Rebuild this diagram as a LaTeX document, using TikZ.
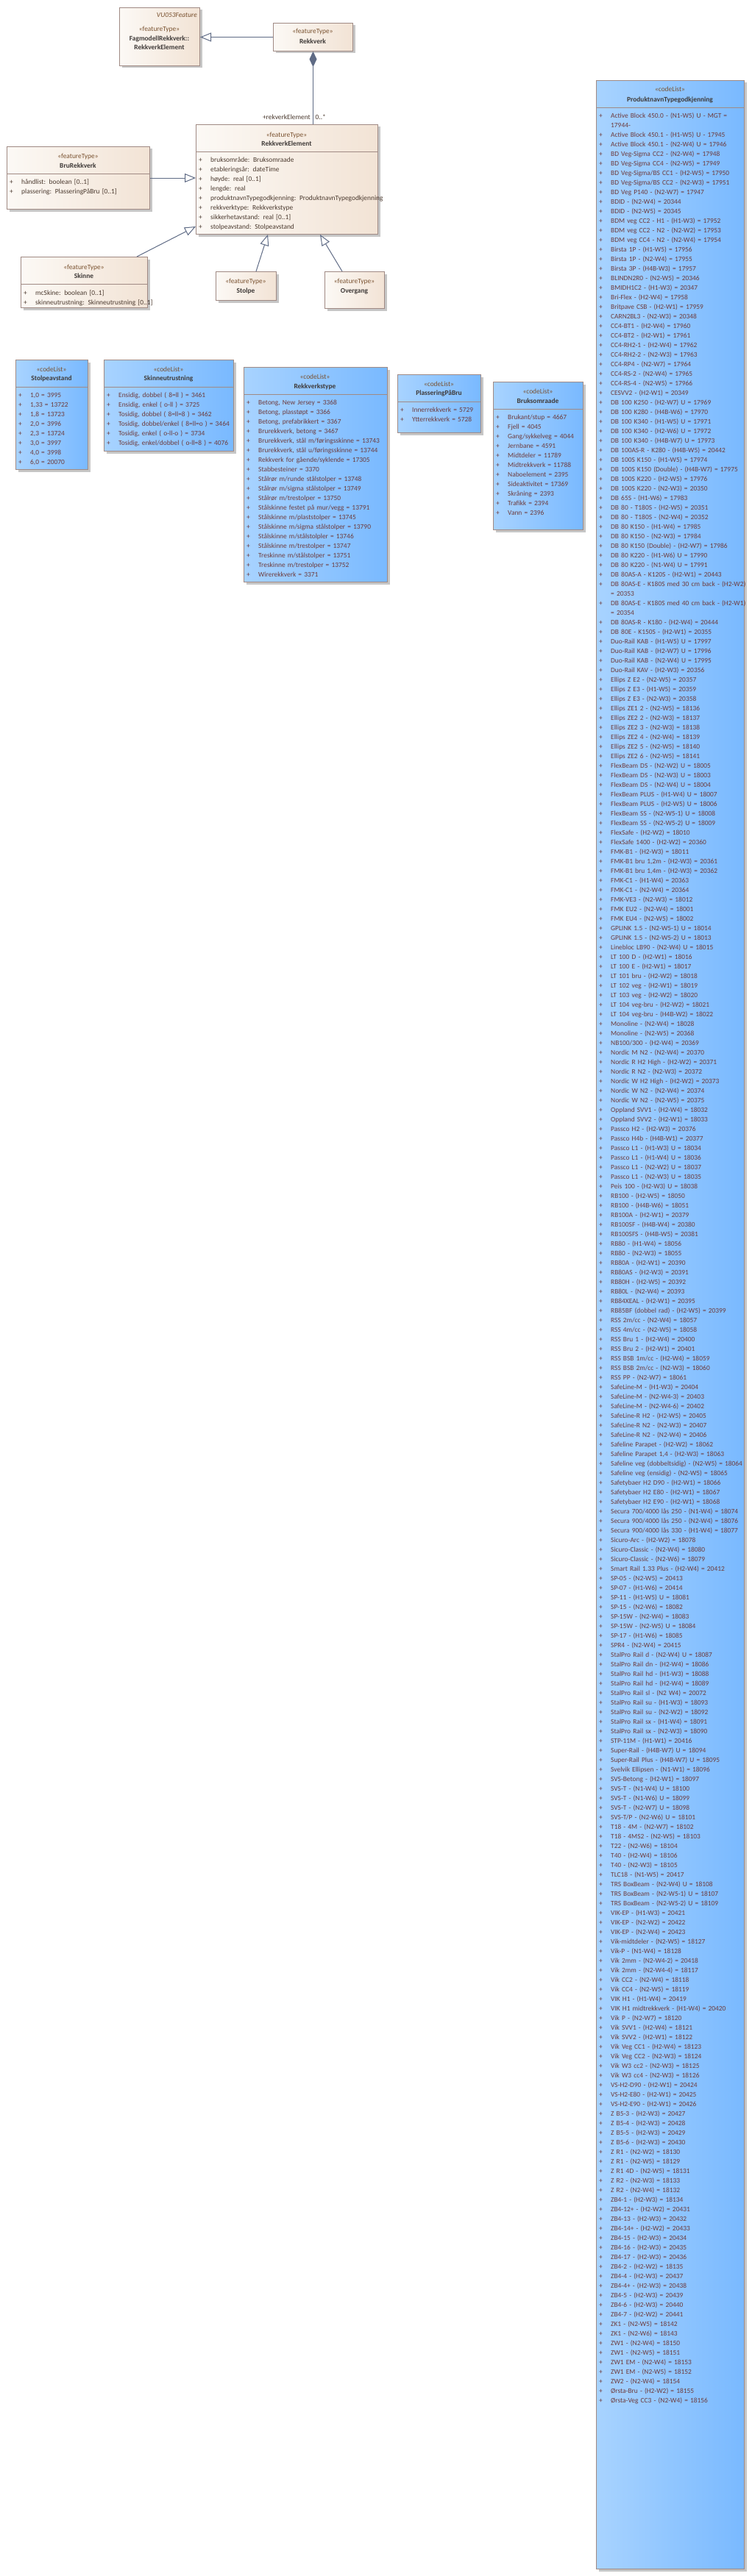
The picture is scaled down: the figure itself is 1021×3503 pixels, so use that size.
\documentclass[tikz,border=0pt]{standalone}
\usepackage{fontspec}
\setmainfont{Carlito}
\usetikzlibrary{arrows.meta,calc,positioning,shadows}
\definecolor{featleft}{HTML}{FCF9F5}
\definecolor{featright}{HTML}{F2E3D5}
\definecolor{codeleft}{HTML}{A8D3FF}
\definecolor{coderight}{HTML}{79B9FF}
\definecolor{boxedge}{HTML}{A08A84}
\definecolor{shadowgrey}{HTML}{C6C6C6}
\definecolor{linegrey}{HTML}{5F6B85}
\definecolor{stereobrown}{HTML}{7A5230}
\definecolor{namegrey}{HTML}{3F3A38}
\definecolor{attrbrown}{HTML}{4B3A2F}
\definecolor{codetxt}{HTML}{6E3B3B}
\newcommand{\fs}{\fontsize{9.4}{13}\selectfont}
\newcommand{\pl}{\makebox[16pt][l]{+}}
\newcommand{\cont}{\hspace*{16pt}}
\newcommand{\fstrut}{\rule{0pt}{10pt}}

\tikzset{
  umlbox/.style={draw=boxedge, line width=1pt, inner sep=0pt, anchor=north west,
    drop shadow={shadow xshift=3pt, shadow yshift=-3pt, fill=shadowgrey, opacity=1}},
  featbox/.style={umlbox, left color=featleft, right color=featright},
  codebox/.style={umlbox, left color=codeleft, right color=coderight},
  divider/.style={draw=boxedge, line width=1pt},
  stereo/.style={font=\fs, text=stereobrown, inner sep=0pt, anchor=base},
  cname/.style={font=\fs\bfseries, text=namegrey, inner sep=0pt, anchor=base},
  attrs/.style={font=\fs, text=attrbrown, text width=320pt, align=left, inner sep=0pt, anchor=north west},
  codes/.style={attrs, text=codetxt},
  gen/.style={draw=linegrey, line width=1pt, -{Triangle[open, length=15pt, width=12pt]}},
  comp/.style={draw=linegrey, line width=1pt, {Diamond[length=21pt, width=10pt, fill=linegrey]}-},
  rolelabel/.style={font=\fs, text=attrbrown, inner sep=0pt},
}

\begin{document}
\begin{tikzpicture}[x=1pt, y=-1pt]
  \useasboundingbox (0,0) rectangle (1021,3503);
  \fill[white] (0,0) rectangle (1021,3503);

  % featureType boxes
  \node[featbox, minimum width=109pt, minimum height=79pt] (fagmodell) at (162,10) {};
  \node[featbox, minimum width=108pt, minimum height=38pt] (rekkverk) at (371,31) {};
  \node[featbox, minimum width=247pt, minimum height=149pt] (relem) at (266,169) {};
  \node[featbox, minimum width=194pt, minimum height=85pt] (brurekk) at (9,199) {};
  \node[featbox, minimum width=172pt, minimum height=69pt] (skinne) at (28,349) {};
  \node[featbox, minimum width=82pt, minimum height=39pt] (stolpe) at (293,369) {};
  \node[featbox, minimum width=81pt, minimum height=50pt] (overgang) at (441,369) {};

  % codeList boxes
  \node[codebox, minimum width=98pt, minimum height=149pt] (stolpeavst) at (21,489) {};
  \node[codebox, minimum width=176pt, minimum height=124pt] (skinneutr) at (141,489) {};
  \node[codebox, minimum width=195pt, minimum height=292pt] (rekkvtype) at (331,499) {};
  \node[codebox, minimum width=113pt, minimum height=79pt] (plassering) at (540,509) {};
  \node[codebox, minimum width=122pt, minimum height=201pt] (bruksomr) at (670,519) {};
  \node[codebox, minimum width=201pt, minimum height=3384pt] (produkt) at (810,109) {};

  % compartments
  \foreach \cls/\yy in {relem/207, brurekk/236, skinne/386, stolpeavst/526, skinneutr/526,
      rekkvtype/536, plassering/546, bruksomr/556, produkt/147}
    \draw[divider] (\cls.west |- 0,\yy) -- (\cls.east |- 0,\yy);

  % headers
  \node[font=\fs\itshape, text=stereobrown, inner sep=0pt, anchor=base east] (vufeat) at (268,23.3) {VU053Feature};
  \node[stereo] (fagst) at (216.5,42.3) {«featureType»};
  \node[cname] (fagnm) at (216.5,56) {FagmodellRekkverk::};
  \node[cname] (fagnm2) at (216.5,67.6) {RekkverkElement};
  \node[stereo] (rkst) at (425,46) {«featureType»};
  \node[cname] (rknm) at (425,59.3) {Rekkverk};
  \node[stereo] (rest) at (389.5,186.6) {«featureType»};
  \node[cname] (renm) at (389.5,198.3) {RekkverkElement};
  \node[stereo] (brst) at (106,215.6) {«featureType»};
  \node[cname] (brnm) at (106,228.3) {BruRekkverk};
  \node[stereo] (skst) at (114,366) {«featureType»};
  \node[cname] (sknm) at (114,378.3) {Skinne};
  \node[stereo] (stst) at (334,385) {«featureType»};
  \node[cname] (stnm) at (334,398.3) {Stolpe};
  \node[stereo] (ovst) at (481.5,385) {«featureType»};
  \node[cname] (ovnm) at (481.5,398.3) {Overgang};
  \node[stereo] (sast) at (70,505) {«codeList»};
  \node[cname] (sanm) at (70,517.6) {Stolpeavstand};
  \node[stereo] (sust) at (229,505) {«codeList»};
  \node[cname] (sunm) at (229,517.6) {Skinneutrustning};
  \node[stereo] (rtst) at (428,515) {«codeList»};
  \node[cname] (rtnm) at (428,528) {Rekkverkstype};
  \node[stereo] (plst) at (596.5,525) {«codeList»};
  \node[cname] (plnm) at (596.5,537.6) {PlasseringPåBru};
  \node[stereo] (bost) at (731,535) {«codeList»};
  \node[cname] (bonm) at (731,548.3) {Bruksomraade};
  \node[stereo] (prst) at (910.5,125) {«codeList»};
  \node[cname] (prnm) at (910.5,138.3) {ProduktnavnTypegodkjenning};

  % attributes
  \node[attrs] (reattr) at (270,210) {\fstrut\pl bruksområde: Bruksomraade\\
    \pl etableringsår: dateTime\\ \pl høyde: real [0..1]\\ \pl lengde: real\\
    \pl produktnavnTypegodkjenning: ProduktnavnTypegodkjenning\\
    \pl rekkverktype: Rekkverkstype\\ \pl sikkerhetavstand: real [0..1]\\
    \pl stolpeavstand: Stolpeavstand};
  \node[attrs] (brattr) at (13,240.6) {\fstrut\pl håndlist: boolean [0..1]\\
    \pl plassering: PlasseringPåBru [0..1]};
  \node[attrs] (skattr) at (32,391) {\fstrut\pl mcSkine: boolean [0..1]\\
    \pl skinneutrustning: Skinneutrustning [0..1]};

  % code values
  \node[codes] (saval) at (25,530) {\fstrut\pl 1,0 = 3995\\ \pl 1,33 = 13722\\
    \pl 1,8 = 13723\\ \pl 2,0 = 3996\\ \pl 2,3 = 13724\\ \pl 3,0 = 3997\\
    \pl 4,0 = 3998\\ \pl 6,0 = 20070};
  \node[codes] (suval) at (145,530) {\fstrut\pl Ensidig, dobbel ( 8=ll ) = 3461\\
    \pl Ensidig, enkel ( o-ll ) = 3725\\ \pl Tosidig, dobbel ( 8=ll=8 ) = 3462\\
    \pl Tosidig, dobbel/enkel ( 8=ll=o ) = 3464\\ \pl Tosidig, enkel ( o-ll-o ) = 3734\\
    \pl Tosidig, enkel/dobbel ( o-ll=8 ) = 4076};
  \node[codes] (rtval) at (335,540) {\fstrut\pl Betong, New Jersey = 3368\\
    \pl Betong, plasstøpt = 3366\\ \pl Betong, prefabrikkert = 3367\\
    \pl Brurekkverk, betong = 3467\\ \pl Brurekkverk, stål m/føringsskinne = 13743\\
    \pl Brurekkverk, stål u/føringsskinne = 13744\\ \pl Rekkverk for gående/syklende = 17305\\
    \pl Stabbesteiner = 3370\\ \pl Stålrør m/runde stålstolper = 13748\\
    \pl Stålrør m/sigma stålstolper = 13749\\ \pl Stålrør m/trestolper = 13750\\
    \pl Stålskinne festet på mur/vegg = 13791\\ \pl Stålskinne m/plaststolper = 13745\\
    \pl Stålskinne m/sigma stålstolper = 13790\\ \pl Stålskinne m/stålstolpler = 13746\\
    \pl Stålskinne m/trestolper = 13747\\ \pl Treskinne m/stålstolper = 13751\\
    \pl Treskinne m/trestolper = 13752\\ \pl Wirerekkverk = 3371};
  \node[codes] (plval) at (544,550.3) {\fstrut\pl Innerrekkverk = 5729\\
    \pl Ytterrekkverk = 5728};
  \node[codes] (boval) at (674,560) {\fstrut\pl Brukant/stup = 4667\\ \pl Fjell = 4045\\
    \pl Gang/sykkelveg = 4044\\ \pl Jernbane = 4591\\ \pl Midtdeler = 11789\\
    \pl Midtrekkverk = 11788\\ \pl Naboelement = 2395\\ \pl Sideaktivitet = 17369\\
    \pl Skråning = 2393\\ \pl Trafikk = 2394\\ \pl Vann = 2396};

  \begin{scope}
    \clip (produkt.north west) rectangle (produkt.south east);
    \node[codes] (prval) at (814,150.6) {\fstrut\pl Active Block 450.0 - (N1-W5) U - MGT =\\
      \cont 17944-\\
      \pl Active Block 450.1 - (H1-W5) U - 17945\\
      \pl Active Block 450.1 - (N2-W4) U = 17946\\
      \pl BD Veg-Sigma CC2 - (N2-W4) = 17948\\
      \pl BD Veg-Sigma CC4 - (N2-W5) = 17949\\
      \pl BD Veg-Sigma/BS CC1 - (H2-W5) = 17950\\
      \pl BD Veg-Sigma/BS CC2 - (N2-W3) = 17951\\
      \pl BD Veg P140 - (N2-W7) = 17947\\
      \pl BDID - (N2-W4) = 20344\\
      \pl BDID - (N2-W5) = 20345\\
      \pl BDM veg CC2 - H1 - (H1-W3) = 17952\\
      \pl BDM veg CC2 - N2 - (N2-W2) = 17953\\
      \pl BDM veg CC4 - N2 - (N2-W4) = 17954\\
      \pl Birsta 1P - (H1-W5) = 17956\\
      \pl Birsta 1P - (N2-W4) = 17955\\
      \pl Birsta 3P - (H4B-W3) = 17957\\
      \pl BLINDN2R0 - (N2-W5) = 20346\\
      \pl BMIDH1C2 - (H1-W3) = 20347\\
      \pl Bri-Flex - (H2-W4) = 17958\\
      \pl Britpave CSB - (H2-W1) = 17959\\
      \pl CARN2BL3 - (N2-W3) = 20348\\
      \pl CC4-BT1 - (H2-W4) = 17960\\
      \pl CC4-BT2 - (H2-W1) = 17961\\
      \pl CC4-RH2-1 - (H2-W4) = 17962\\
      \pl CC4-RH2-2 - (N2-W3) = 17963\\
      \pl CC4-RP4 - (N2-W7) = 17964\\
      \pl CC4-RS-2 - (N2-W4) = 17965\\
      \pl CC4-RS-4 - (N2-W5) = 17966\\
      \pl CESVV2 - (H2-W1) = 20349\\
      \pl DB 100 K250 - (H2-W7) U = 17969\\
      \pl DB 100 K280 - (H4B-W6) = 17970\\
      \pl DB 100 K340 - (H1-W5) U = 17971\\
      \pl DB 100 K340 - (H2-W6) U = 17972\\
      \pl DB 100 K340 - (H4B-W7) U = 17973\\
      \pl DB 100AS-R - K280 - (H4B-W5) = 20442\\
      \pl DB 100S K150 - (H1-W5) = 17974\\
      \pl DB 100S K150 (Double) - (H4B-W7) = 17975\\
      \pl DB 100S K220 - (H2-W5) = 17976\\
      \pl DB 100S K220 - (N2-W3) = 20350\\
      \pl DB 65S - (H1-W6) = 17983\\
      \pl DB 80 - T180S - (H2-W5) = 20351\\
      \pl DB 80 - T180S - (N2-W4) = 20352\\
      \pl DB 80 K150 - (H1-W4) = 17985\\
      \pl DB 80 K150 - (N2-W3) = 17984\\
      \pl DB 80 K150 (Double) - (H2-W7) = 17986\\
      \pl DB 80 K220 - (H1-W6) U = 17990\\
      \pl DB 80 K220 - (N1-W4) U = 17991\\
      \pl DB 80AS-A - K120S - (H2-W1) = 20443\\
      \pl DB 80AS-E - K180S med 30 cm back - (H2-W2)\\
      \cont = 20353\\
      \pl DB 80AS-E - K180S med 40 cm back - (H2-W1)\\
      \cont = 20354\\
      \pl DB 80AS-R - K180 - (H2-W4) = 20444\\
      \pl DB 80E - K150S - (H2-W1) = 20355\\
      \pl Duo-Rail KAB - (H1-W5) U = 17997\\
      \pl Duo-Rail KAB - (H2-W7) U = 17996\\
      \pl Duo-Rail KAB - (N2-W4) U = 17995\\
      \pl Duo-Rail KAV - (H2-W3) = 20356\\
      \pl Ellips Z E2 - (N2-W5) = 20357\\
      \pl Ellips Z E3 - (H1-W5) = 20359\\
      \pl Ellips Z E3 - (N2-W3) = 20358\\
      \pl Ellips ZE1 2 - (N2-W5) = 18136\\
      \pl Ellips ZE2 2 - (N2-W3) = 18137\\
      \pl Ellips ZE2 3 - (N2-W3) = 18138\\
      \pl Ellips ZE2 4 - (N2-W4) = 18139\\
      \pl Ellips ZE2 5 - (N2-W5) = 18140\\
      \pl Ellips ZE2 6 - (N2-W5) = 18141\\
      \pl FlexBeam DS - (N2-W2) U = 18005\\
      \pl FlexBeam DS - (N2-W3) U = 18003\\
      \pl FlexBeam DS - (N2-W4) U = 18004\\
      \pl FlexBeam PLUS - (H1-W4) U = 18007\\
      \pl FlexBeam PLUS - (H2-W5) U = 18006\\
      \pl FlexBeam SS - (N2-W5-1) U = 18008\\
      \pl FlexBeam SS - (N2-W5-2) U = 18009\\
      \pl FlexSafe - (H2-W2) = 18010\\
      \pl FlexSafe 1400 - (H2-W2) = 20360\\
      \pl FMK-B1 - (H2-W3) = 18011\\
      \pl FMK-B1 bru 1,2m - (H2-W3) = 20361\\
      \pl FMK-B1 bru 1,4m - (H2-W3) = 20362\\
      \pl FMK-C1 - (H1-W4) = 20363\\
      \pl FMK-C1 - (N2-W4) = 20364\\
      \pl FMK-VE3 - (N2-W3) = 18012\\
      \pl FMK EU2 - (N2-W4) = 18001\\
      \pl FMK EU4 - (N2-W5) = 18002\\
      \pl GPLINK 1.5 - (N2-W5-1) U = 18014\\
      \pl GPLINK 1.5 - (N2-W5-2) U = 18013\\
      \pl Linebloc LB90 - (N2-W4) U = 18015\\
      \pl LT 100 D - (H2-W1) = 18016\\
      \pl LT 100 E - (H2-W1) = 18017\\
      \pl LT 101 bru - (H2-W2) = 18018\\
      \pl LT 102 veg - (H2-W1) = 18019\\
      \pl LT 103 veg - (H2-W2) = 18020\\
      \pl LT 104 veg-bru - (H2-W2) = 18021\\
      \pl LT 104 veg-bru - (H4B-W2) = 18022\\
      \pl Monoline - (N2-W4) = 18028\\
      \pl Monoline - (N2-W5) = 20368\\
      \pl NB100/300 - (H2-W4) = 20369\\
      \pl Nordic M N2 - (N2-W4) = 20370\\
      \pl Nordic R H2 High - (H2-W2) = 20371\\
      \pl Nordic R N2 - (N2-W3) = 20372\\
      \pl Nordic W H2 High - (H2-W2) = 20373\\
      \pl Nordic W N2 - (N2-W4) = 20374\\
      \pl Nordic W N2 - (N2-W5) = 20375\\
      \pl Oppland SVV1 - (H2-W4) = 18032\\
      \pl Oppland SVV2 - (H2-W1) = 18033\\
      \pl Passco H2 - (H2-W3) = 20376\\
      \pl Passco H4b - (H4B-W1) = 20377\\
      \pl Passco L1 - (H1-W3) U = 18034\\
      \pl Passco L1 - (H1-W4) U = 18036\\
      \pl Passco L1 - (N2-W2) U = 18037\\
      \pl Passco L1 - (N2-W3) U = 18035\\
      \pl Peis 100 - (H2-W3) U = 18038\\
      \pl RB100 - (H2-W5) = 18050\\
      \pl RB100 - (H4B-W6) = 18051\\
      \pl RB100A - (H2-W1) = 20379\\
      \pl RB100SF - (H4B-W4) = 20380\\
      \pl RB100SFS - (H4B-W5) = 20381\\
      \pl RB80 - (H1-W4) = 18056\\
      \pl RB80 - (N2-W3) = 18055\\
      \pl RB80A - (H2-W1) = 20390\\
      \pl RB80AS - (H2-W3) = 20391\\
      \pl RB80H - (H2-W5) = 20392\\
      \pl RB80L - (N2-W4) = 20393\\
      \pl RB84XEAL - (H2-W1) = 20395\\
      \pl RB85BF (dobbel rad) - (H2-W5) = 20399\\
      \pl RSS 2m/cc - (N2-W4) = 18057\\
      \pl RSS 4m/cc - (N2-W5) = 18058\\
      \pl RSS Bru 1 - (H2-W4) = 20400\\
      \pl RSS Bru 2 - (H2-W1) = 20401\\
      \pl RSS BSB 1m/cc - (H2-W4) = 18059\\
      \pl RSS BSB 2m/cc - (N2-W3) = 18060\\
      \pl RSS PP - (N2-W7) = 18061\\
      \pl SafeLine-M - (H1-W3) = 20404\\
      \pl SafeLine-M - (N2-W4-3) = 20403\\
      \pl SafeLine-M - (N2-W4-6) = 20402\\
      \pl SafeLine-R H2 - (H2-W5) = 20405\\
      \pl SafeLine-R N2 - (N2-W3) = 20407\\
      \pl SafeLine-R N2 - (N2-W4) = 20406\\
      \pl Safeline Parapet - (H2-W2) = 18062\\
      \pl Safeline Parapet 1,4 - (H2-W3) = 18063\\
      \pl Safeline veg (dobbeltsidig) - (N2-W5) = 18064\\
      \pl Safeline veg (ensidig) - (N2-W5) = 18065\\
      \pl Safetybaer H2 D90 - (H2-W1) = 18066\\
      \pl Safetybaer H2 E80 - (H2-W1) = 18067\\
      \pl Safetybaer H2 E90 - (H2-W1) = 18068\\
      \pl Secura 700/4000 lås 250 - (N1-W4) = 18074\\
      \pl Secura 900/4000 lås 250 - (N2-W4) = 18076\\
      \pl Secura 900/4000 lås 330 - (H1-W4) = 18077\\
      \pl Sicuro-Arc - (H2-W2) = 18078\\
      \pl Sicuro-Classic - (N2-W4) = 18080\\
      \pl Sicuro-Classic - (N2-W6) = 18079\\
      \pl Smart Rail 1.33 Plus - (H2-W4) = 20412\\
      \pl SP-05 - (N2-W5) = 20413\\
      \pl SP-07 - (H1-W6) = 20414\\
      \pl SP-11 - (H1-W5) U = 18081\\
      \pl SP-15 - (N2-W6) = 18082\\
      \pl SP-15W - (N2-W4) = 18083\\
      \pl SP-15W - (N2-W5) U = 18084\\
      \pl SP-17 - (H1-W6) = 18085\\
      \pl SPR4 - (N2-W4) = 20415\\
      \pl StalPro Rail d - (N2-W4) U = 18087\\
      \pl StalPro Rail dn - (H2-W4) = 18086\\
      \pl StalPro Rail hd - (H1-W3) = 18088\\
      \pl StalPro Rail hd - (H2-W4) = 18089\\
      \pl StalPro Rail sl - (N2 W4) = 20072\\
      \pl StalPro Rail su - (H1-W3) = 18093\\
      \pl StalPro Rail su - (N2-W2) = 18092\\
      \pl StalPro Rail sx - (H1-W4) = 18091\\
      \pl StalPro Rail sx - (N2-W3) = 18090\\
      \pl STP-11M - (H1-W1) = 20416\\
      \pl Super-Rail - (H4B-W7) U = 18094\\
      \pl Super-Rail Plus - (H4B-W7) U = 18095\\
      \pl Svelvik Ellipsen - (N1-W1) = 18096\\
      \pl SVS-Betong - (H2-W1) = 18097\\
      \pl SVS-T - (N1-W4) U = 18100\\
      \pl SVS-T - (N1-W6) U = 18099\\
      \pl SVS-T - (N2-W7) U = 18098\\
      \pl SVS-T/P - (N2-W6) U = 18101\\
      \pl T18 - 4M - (N2-W7) = 18102\\
      \pl T18 - 4MS2 - (N2-W5) = 18103\\
      \pl T22 - (N2-W6) = 18104\\
      \pl T40 - (H2-W4) = 18106\\
      \pl T40 - (N2-W3) = 18105\\
      \pl TLC18 - (N1-W5) = 20417\\
      \pl TRS BoxBeam - (N2-W4) U = 18108\\
      \pl TRS BoxBeam - (N2-W5-1) U = 18107\\
      \pl TRS BoxBeam - (N2-W5-2) U = 18109\\
      \pl VIK-EP - (H1-W3) = 20421\\
      \pl VIK-EP - (N2-W2) = 20422\\
      \pl VIK-EP - (N2-W4) = 20423\\
      \pl Vik-midtdeler - (N2-W5) = 18127\\
      \pl Vik-P - (N1-W4) = 18128\\
      \pl Vik 2mm - (N2-W4-2) = 20418\\
      \pl Vik 2mm - (N2-W4-4) = 18117\\
      \pl Vik CC2 - (N2-W4) = 18118\\
      \pl Vik CC4 - (N2-W5) = 18119\\
      \pl VIK H1 - (H1-W4) = 20419\\
      \pl VIK H1 midtrekkverk - (H1-W4) = 20420\\
      \pl Vik P - (N2-W7) = 18120\\
      \pl Vik SVV1 - (H2-W4) = 18121\\
      \pl Vik SVV2 - (H2-W1) = 18122\\
      \pl Vik Veg CC1 - (H2-W4) = 18123\\
      \pl Vik Veg CC2 - (N2-W3) = 18124\\
      \pl Vik W3 cc2 - (N2-W3) = 18125\\
      \pl Vik W3 cc4 - (N2-W3) = 18126\\
      \pl VS-H2-D90 - (H2-W1) = 20424\\
      \pl VS-H2-E80 - (H2-W1) = 20425\\
      \pl VS-H2-E90 - (H2-W1) = 20426\\
      \pl Z B5-3 - (H2-W3) = 20427\\
      \pl Z B5-4 - (H2-W3) = 20428\\
      \pl Z B5-5 - (H2-W3) = 20429\\
      \pl Z B5-6 - (H2-W3) = 20430\\
      \pl Z R1 - (N2-W2) = 18130\\
      \pl Z R1 - (N2-W5) = 18129\\
      \pl Z R1 4D - (N2-W5) = 18131\\
      \pl Z R2 - (N2-W3) = 18133\\
      \pl Z R2 - (N2-W4) = 18132\\
      \pl ZB4-1 - (H2-W3) = 18134\\
      \pl ZB4-12+ - (H2-W2) = 20431\\
      \pl ZB4-13 - (H2-W3) = 20432\\
      \pl ZB4-14+ - (H2-W2) = 20433\\
      \pl ZB4-15 - (H2-W3) = 20434\\
      \pl ZB4-16 - (H2-W3) = 20435\\
      \pl ZB4-17 - (H2-W3) = 20436\\
      \pl ZB4-2 - (H2-W2) = 18135\\
      \pl ZB4-4 - (H2-W3) = 20437\\
      \pl ZB4-4+ - (H2-W3) = 20438\\
      \pl ZB4-5 - (H2-W3) = 20439\\
      \pl ZB4-6 - (H2-W3) = 20440\\
      \pl ZB4-7 - (H2-W2) = 20441\\
      \pl ZK1 - (N2-W5) = 18142\\
      \pl ZK1 - (N2-W6) = 18143\\
      \pl ZW1 - (N2-W4) = 18150\\
      \pl ZW1 - (N2-W5) = 18151\\
      \pl ZW1 EM - (N2-W4) = 18153\\
      \pl ZW1 EM - (N2-W5) = 18152\\
      \pl ZW2 - (N2-W4) = 18154\\
      \pl Ørsta-Bru - (H2-W2) = 18155\\
      \pl Ørsta-Veg CC3 - (N2-W4) = 18156};
  \end{scope}

  % connectors
  \draw[gen] (rekkverk.west) -- (fagmodell.east |- rekkverk.west);
  \draw[comp] (rekkverk.south) -- (rekkverk.south |- relem.north);
  \node[rolelabel, anchor=base east] (rolename) at (422,162.3) {+rekverkElement};
  \node[rolelabel, anchor=base west] (rolemult) at (428.5,162.3) {0..*};
  \draw[gen] (brurekk.east |- 0,242) -- (relem.west |- 0,242);
  \draw[gen] ([xshift=-15pt]skinne.north east) -- ([yshift=11pt]relem.south west);
  \draw[gen] ([xshift=-28pt]stolpe.north east) -- ([xshift=98pt]relem.south west);
  \draw[gen] ([xshift=24pt]overgang.north west) -- ([xshift=169pt]relem.south west);
\end{tikzpicture}
\end{document}
